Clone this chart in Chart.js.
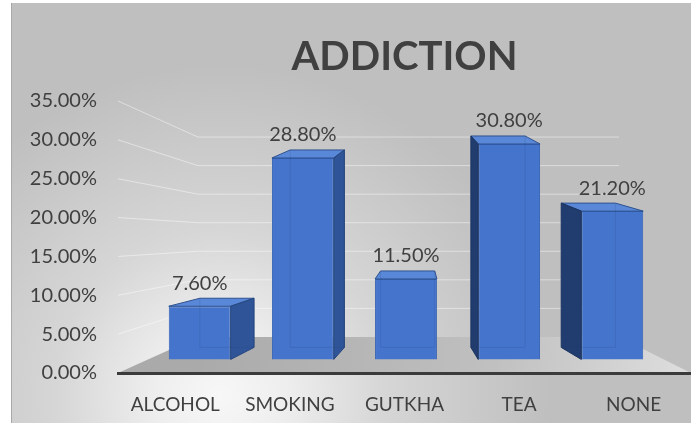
<!DOCTYPE html>
<html>
<head>
<meta charset="utf-8">
<title>Addiction</title>
<script src="https://cdn.jsdelivr.net/npm/chart.js@4.4.1/dist/chart.umd.min.js"></script>
<style>
  html, body { margin: 0; padding: 0; background: #fff; }
  #wrap { width: 691px; height: 423px; }
</style>
</head>
<body>
<div id="wrap"><canvas id="chart" width="691" height="423"></canvas></div>
<script>
const categories = ['ALCOHOL', 'SMOKING', 'GUTKHA', 'TEA', 'NONE'];
const addictionPct = [7.6, 28.8, 11.5, 30.8, 21.2];
const yTickValues = [0, 5, 10, 15, 20, 25, 30, 35];

// 3d look: everything converges on one vanishing point, given in front-axis units
const VP_INDEX = 2.13;
const VP_VALUE = 17.5;
const BAR_DEPTH = 0.9;    // bar fronts sit a little behind the front axis
const BAR_BACK = 0.876;   // bar back faces, relative to their fronts
const WALL_DEPTH = 0.735; // back wall
const TOP_RISE = 8;
const BASE_RISE = 12;

const Y_MAX = yTickValues[yTickValues.length - 1];
const N = categories.length;
const shift = 1 - BAR_DEPTH;
const barY = { min: -VP_VALUE * shift / BAR_DEPTH, max: (Y_MAX - VP_VALUE * shift) / BAR_DEPTH };
const barX = { min: (-0.5 - VP_INDEX * shift) / BAR_DEPTH, max: (N - 0.5 - VP_INDEX * shift) / BAR_DEPTH };

Chart.defaults.font.family = 'Lato, "Open Sans", sans-serif';

function vanish(chart){
  const { x, y } = chart.scales;
  return { vx: x.getPixelForValue(VP_INDEX), vy: y.getPixelForValue(VP_VALUE) };
}

function poly(ctx, pts, fill, stroke){
  ctx.beginPath();
  pts.forEach(([px, py], i) => i ? ctx.lineTo(px, py) : ctx.moveTo(px, py));
  ctx.closePath();
  ctx.fillStyle = fill;
  ctx.fill();
  if(stroke){ ctx.strokeStyle = stroke; ctx.stroke(); }
}

// grey panel, side + back wall gridlines and the floor
const backdrop = {
  id: 'backdrop',
  beforeDraw(chart){
    const { ctx, width, height, chartArea: a, scales: { y } } = chart;
    ctx.save();
    ctx.fillStyle = '#ffffff';
    ctx.fillRect(0, 0, width, height);
    const g = ctx.createRadialGradient(220, 395, 0, 220, 395, 330);
    g.addColorStop(0, '#f7f7f7');
    g.addColorStop(0.2, '#eeeeee');
    g.addColorStop(0.5, '#d6d6d6');
    g.addColorStop(1, '#bfbfbf');
    ctx.fillStyle = g;
    ctx.fillRect(11, 3, width - 11, height - 3);
    ctx.strokeStyle = '#a9a9a9';
    ctx.lineWidth = 1;
    ctx.beginPath();
    ctx.moveTo(11.5, 3);
    ctx.lineTo(11.5, height);
    ctx.stroke();

    const { vx, vy } = vanish(chart);
    const back = (px, py) => [vx + WALL_DEPTH * (px - vx), vy + WALL_DEPTH * (py - vy)];

    ctx.strokeStyle = 'rgba(255,255,255,0.45)';
    yTickValues.forEach(v => {
      if(v === 0) return;
      const yf = y.getPixelForValue(v);
      const [bl, yb] = back(a.left, yf);
      const [br] = back(a.right, yf);
      ctx.beginPath();
      ctx.moveTo(a.left, yf);
      ctx.lineTo(bl, yb);
      ctx.lineTo(br, yb);
      ctx.stroke();
    });

    const y0 = y.getPixelForValue(0);
    const [fl, fy] = back(a.left, y0);
    const [fr] = back(a.right, y0);
    const fg = ctx.createLinearGradient(fl, fy, a.right, y0);
    fg.addColorStop(0, '#aaaaaa');
    fg.addColorStop(0.6, '#c0c0c0');
    fg.addColorStop(1, '#dedede');
    poly(ctx, [[a.left, y0], [fl, fy], [fr, fy], [a.right, y0]], fg);
    ctx.restore();
  }
};

// depth faces of each bar plus the value labels
const boxes = {
  id: 'boxes',
  afterDatasetsDraw(chart){
    const { ctx } = chart;
    const { vx } = vanish(chart);
    const meta = chart.getDatasetMeta(0);
    ctx.save();
    ctx.lineWidth = 1;
    meta.data.forEach((bar, i) => {
      const { x, y, base, width } = bar.getProps(['x', 'y', 'base', 'width'], true);
      const l = x - width / 2, r = x + width / 2;
      const bl = vx + BAR_BACK * (l - vx), br = vx + BAR_BACK * (r - vx);
      const bt = y - TOP_RISE, bb = base - BASE_RISE;
      poly(ctx, [[l, y], [r, y], [br, bt], [bl, bt]], '#5a88d8', '#2f528f');
      if(br > r) poly(ctx, [[r, y], [br, bt], [br, bb], [r, base]], '#2f5598', '#27477f');
      if(bl < l) poly(ctx, [[l, y], [bl, bt], [bl, bb], [l, base]], '#213c6e', '#1d345f');

      // back edges show faintly through the front face
      ctx.strokeStyle = 'rgba(40,70,130,0.18)';
      ctx.beginPath();
      ctx.moveTo(bl, bt); ctx.lineTo(bl, bb); ctx.lineTo(br, bb);
      ctx.moveTo(br, bt); ctx.lineTo(br, bb);
      ctx.stroke();

      ctx.fillStyle = '#404040';
      ctx.font = '20px Lato, "Open Sans", sans-serif';
      ctx.textAlign = 'center';
      ctx.textBaseline = 'middle';
      ctx.fillText(addictionPct[i].toFixed(2) + '%', x, y - 23);
    });
    ctx.restore();
  }
};

new Chart(document.getElementById('chart'), {
  type: 'bar',
  data: {
    labels: categories,
    datasets: [{
      data: addictionPct.map((v, i) => ({ x: i, y: v })),
      xAxisID: 'xBar',
      yAxisID: 'yBar',
      backgroundColor: '#4574cc',
      borderColor: '#3462b4',
      borderWidth: 1,
      barPercentage: 0.6,
      categoryPercentage: 1
    }]
  },
  options: {
    responsive: false,
    animation: false,
    layout: { padding: 0 },
    plugins: {
      legend: { display: false },
      tooltip: { enabled: false },
      title: {
        display: true,
        text: 'ADDICTION',
        fullSize: false,
        color: '#404040',
        font: { size: 40, weight: 'bold' },
        padding: { top: 33, bottom: 20 }
      }
    },
    scales: {
      x: {
        type: 'category',
        labels: categories,
        offset: true,
        grid: { display: false, drawTicks: false },
        border: { display: true, color: '#3b3b3b', width: 3 },
        ticks: { color: '#404040', font: { size: 19 }, padding: 20, maxRotation: 0 },
        afterFit: s => { s.height = 50; }
      },
      y: {
        type: 'linear',
        position: 'left',
        min: 0,
        max: Y_MAX,
        grid: { display: false, drawTicks: false },
        border: { display: false },
        afterBuildTicks: s => { s.ticks = yTickValues.map(v => ({ value: v })); },
        ticks: { color: '#404040', font: { size: 20 }, padding: 21, callback: v => v.toFixed(2) + '%' },
        afterFit: s => { s.width = 118; }
      },
      xBar: { type: 'linear', display: false, offset: false, min: barX.min, max: barX.max },
      yBar: { type: 'linear', display: false, min: barY.min, max: barY.max }
    }
  },
  plugins: [backdrop, boxes]
});
</script>
</body>
</html>
